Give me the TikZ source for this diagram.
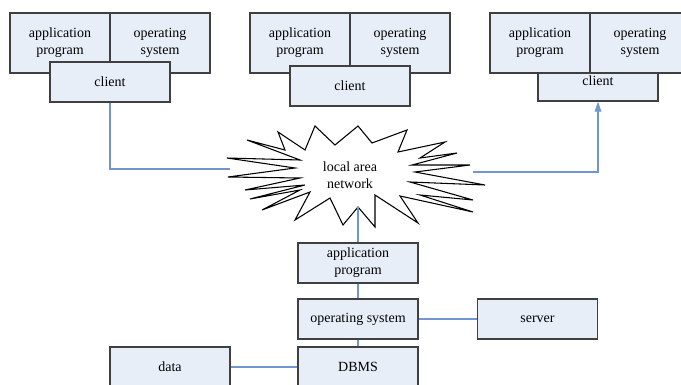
\documentclass[tikz,border=0pt]{standalone}
\usepackage{fontspec}
\setmainfont{Liberation Serif}
\usetikzlibrary{arrows.meta}
\definecolor{boxfill}{HTML}{E8EEF8}
\definecolor{linkblue}{HTML}{7095CF}
\tikzset{
  box/.style={draw=black!75,fill=boxfill,line width=1pt,minimum width=75pt,minimum height=45pt,align=center,inner sep=0pt,font=\fontsize{10.5}{12.75}\selectfont},
  smallbox/.style={box,minimum width=90pt,minimum height=30pt},
  link/.style={draw=linkblue,line width=0.9pt}
}
\begin{document}
\begin{tikzpicture}[x=0.75pt,y=-0.75pt]
   \useasboundingbox (0,0) rectangle (681,385);
   % clients
   \node[box] (app1) at (60,43) {application\\program};
   \node[box] (os1) at (160,43) {operating\\system};
   \node[smallbox] (client1) at (110,82) {client};
   \node[box] (app2) at (300,43) {application\\program};
   \node[box] (os2) at (400,43) {operating\\system};
   \node[smallbox] (client2) at (350,86) {client};
   \node[smallbox,text depth=10pt] (client3) at (598,81) {};
   \node[box] (app3) at (540,43) {application\\program};
   \node[box] (os3) at (640,43) {operating\\system};
   \node[font=\fontsize{10.5}{12.75}\selectfont] at (598,81) {client};
   % network
   \draw[black,line width=0.8pt,fill=white] (278,132) -- (305,150) -- (315,126) -- (335,145) -- (358,126) -- (372,143)
      -- (407,130) -- (398,152) -- (445,142) -- (420,158) -- (457,153) -- (412,165) -- (470,165) -- (415,172)
      -- (485,185) -- (410,182) -- (473,200) -- (420,195) -- (473,212) -- (400,196) -- (418,223) -- (375,195)
      -- (375,227) -- (358,207) -- (343,225) -- (330,198) -- (295,220) -- (310,192) -- (262,210) -- (300,190)
      -- (250,199) -- (305,185) -- (245,190) -- (300,178) -- (228,177) -- (295,168) -- (227,158) -- (300,160)
      -- (247,140) -- (285,150) -- cycle;
   \node[align=center,font=\fontsize{10.5}{12.75}\selectfont] (lan) at (350,175) {local area\\network};
   \coordinate (lanL) at (230,169);
   \coordinate (lanR) at (473,172);
   \coordinate (lanB) at (358,207);
   % server side
   \node[box,minimum width=90pt,minimum height=30pt] (app) at (358,263) {application\\program};
   \node[box,minimum width=90pt,minimum height=30pt] (os) at (358,319) {operating system};
   \node[box,minimum width=90pt,minimum height=30pt] (server) at (537.5,319) {server};
   \node[box,minimum width=90pt,minimum height=30pt] (dbms) at (358,367) {DBMS};
   \node[box,minimum width=90pt,minimum height=30pt] (data) at (170,367) {data};
   \draw[link] (client1.south) |- (lanL);
   \draw[link,-{Triangle[width=5pt,length=7.5pt]}] (lanR) -| (client3.south);
   \draw[link] (lanB) -- (app.north);
   \draw[link] (app.south) -- (os.north);
   \draw[link] (os.east) -- (server.west);
   \draw[link] (os.south) -- (dbms.north);
   \draw[link] (data.east) -- (dbms.west);
\end{tikzpicture}
\end{document}
